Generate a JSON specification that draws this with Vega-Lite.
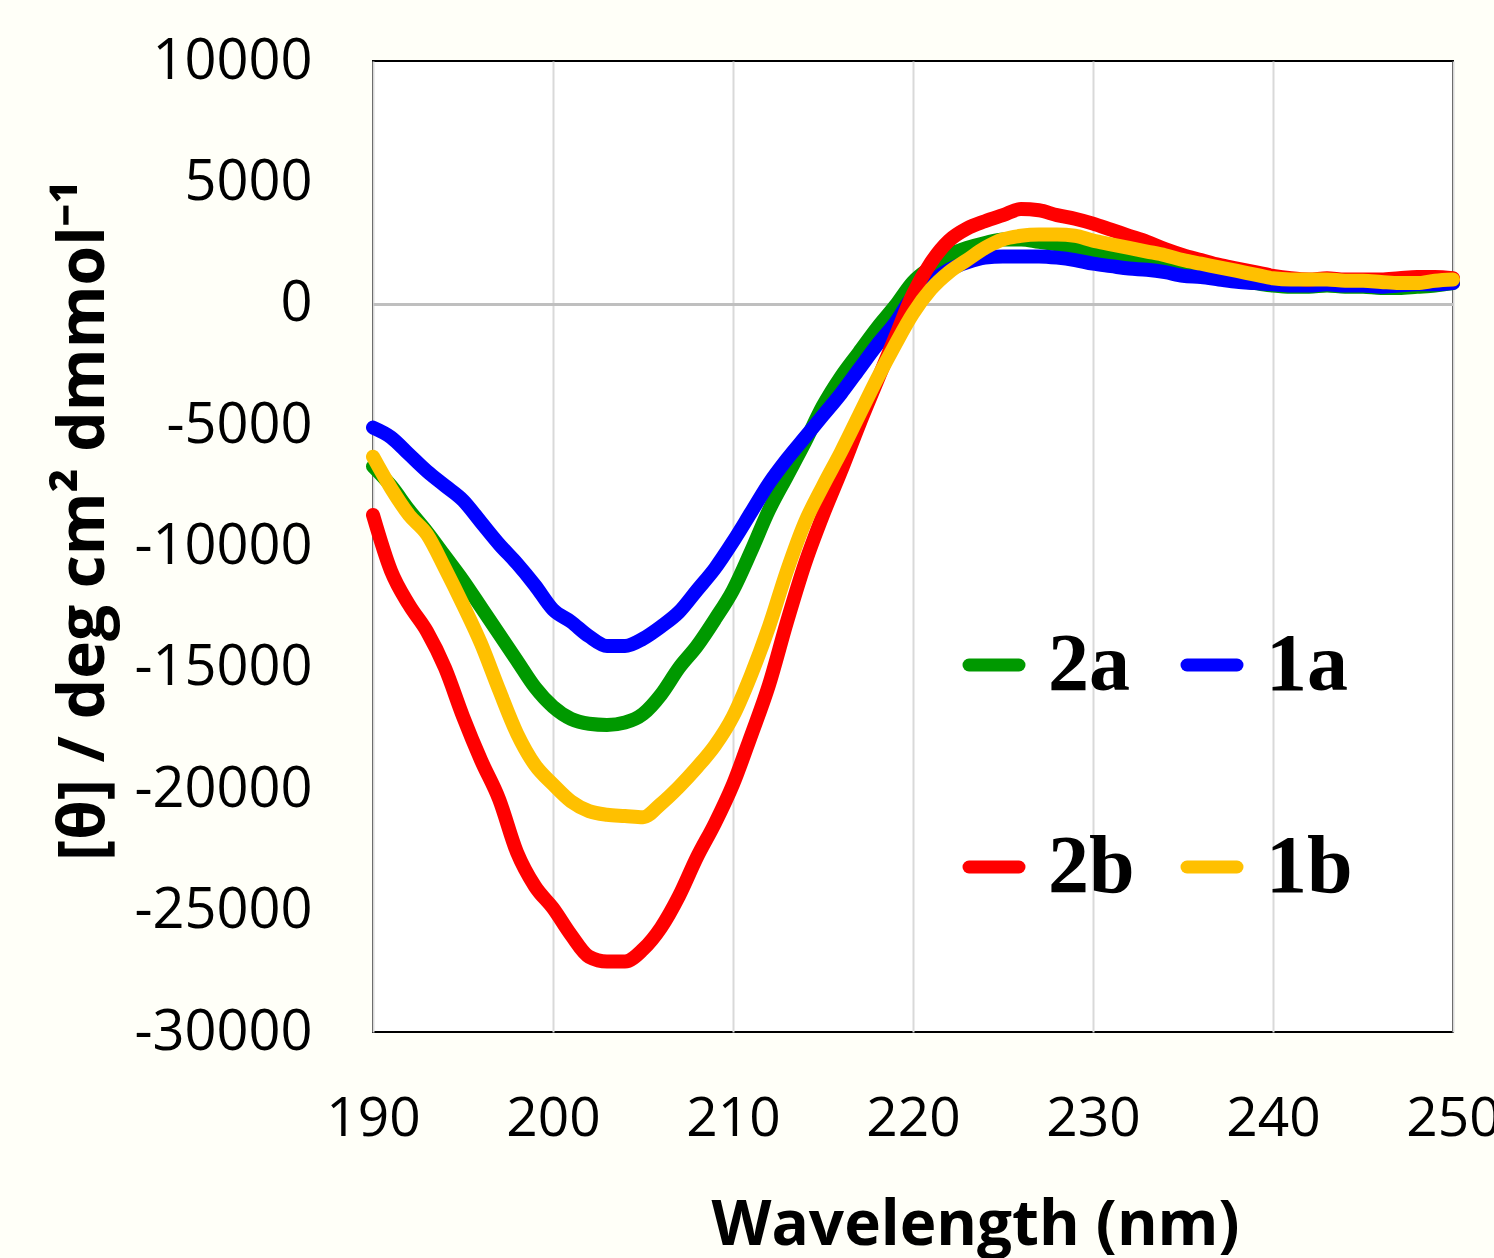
{
  "$schema": "https://vega.github.io/schema/vega-lite/v6.json",
  "width": 1080,
  "height": 971,
  "autosize": {"type": "none"},
  "padding": {"left": 373, "top": 61, "right": 41, "bottom": 226},
  "background": "#fffff8",
  "config": {
    "view": {"stroke": "#000000", "strokeWidth": 2, "fill": "#ffffff"},
    "font": "Open Sans"
  },
  "datasets": {
    "cd": [
      {"s":"2a","x":190,"v":-6700},{"s":"2a","x":191,"v":-7500},{"s":"2a","x":192,"v":-8500},{"s":"2a","x":193,"v":-9400},{"s":"2a","x":194,"v":-10400},{"s":"2a","x":195,"v":-11400},{"s":"2a","x":196,"v":-12500},{"s":"2a","x":197,"v":-13600},{"s":"2a","x":198,"v":-14700},{"s":"2a","x":199,"v":-15800},{"s":"2a","x":200,"v":-16600},{"s":"2a","x":201,"v":-17100},{"s":"2a","x":202,"v":-17300},{"s":"2a","x":203,"v":-17350},{"s":"2a","x":204,"v":-17250},{"s":"2a","x":205,"v":-16900},{"s":"2a","x":206,"v":-16100},{"s":"2a","x":207,"v":-15000},{"s":"2a","x":208,"v":-14100},{"s":"2a","x":209,"v":-13000},{"s":"2a","x":210,"v":-11800},{"s":"2a","x":211,"v":-10200},{"s":"2a","x":212,"v":-8500},{"s":"2a","x":213,"v":-7100},{"s":"2a","x":214,"v":-5700},{"s":"2a","x":215,"v":-4200},{"s":"2a","x":216,"v":-3000},{"s":"2a","x":217,"v":-2000},{"s":"2a","x":218,"v":-1000},{"s":"2a","x":219,"v":-100},{"s":"2a","x":220,"v":900},{"s":"2a","x":221,"v":1500},{"s":"2a","x":222,"v":2000},{"s":"2a","x":223,"v":2300},{"s":"2a","x":224,"v":2500},{"s":"2a","x":225,"v":2650},{"s":"2a","x":226,"v":2650},{"s":"2a","x":227,"v":2550},{"s":"2a","x":228,"v":2450},{"s":"2a","x":229,"v":2350},{"s":"2a","x":230,"v":2150},{"s":"2a","x":231,"v":2000},{"s":"2a","x":232,"v":1850},{"s":"2a","x":233,"v":1700},{"s":"2a","x":234,"v":1550},{"s":"2a","x":235,"v":1400},{"s":"2a","x":236,"v":1250},{"s":"2a","x":237,"v":1100},{"s":"2a","x":238,"v":950},{"s":"2a","x":239,"v":850},{"s":"2a","x":240,"v":750},{"s":"2a","x":241,"v":700},{"s":"2a","x":242,"v":700},{"s":"2a","x":243,"v":750},{"s":"2a","x":244,"v":700},{"s":"2a","x":245,"v":700},{"s":"2a","x":246,"v":650},{"s":"2a","x":247,"v":650},{"s":"2a","x":248,"v":700},{"s":"2a","x":249,"v":750},{"s":"2a","x":250,"v":850},
      {"s":"1a","x":190,"v":-5100},{"s":"1a","x":191,"v":-5500},{"s":"1a","x":192,"v":-6200},{"s":"1a","x":193,"v":-6900},{"s":"1a","x":194,"v":-7500},{"s":"1a","x":195,"v":-8100},{"s":"1a","x":196,"v":-9000},{"s":"1a","x":197,"v":-9900},{"s":"1a","x":198,"v":-10700},{"s":"1a","x":199,"v":-11600},{"s":"1a","x":200,"v":-12600},{"s":"1a","x":201,"v":-13100},{"s":"1a","x":202,"v":-13700},{"s":"1a","x":203,"v":-14100},{"s":"1a","x":204,"v":-14100},{"s":"1a","x":205,"v":-13800},{"s":"1a","x":206,"v":-13300},{"s":"1a","x":207,"v":-12700},{"s":"1a","x":208,"v":-11800},{"s":"1a","x":209,"v":-10900},{"s":"1a","x":210,"v":-9800},{"s":"1a","x":211,"v":-8600},{"s":"1a","x":212,"v":-7400},{"s":"1a","x":213,"v":-6400},{"s":"1a","x":214,"v":-5500},{"s":"1a","x":215,"v":-4600},{"s":"1a","x":216,"v":-3700},{"s":"1a","x":217,"v":-2700},{"s":"1a","x":218,"v":-1700},{"s":"1a","x":219,"v":-800},{"s":"1a","x":220,"v":300},{"s":"1a","x":221,"v":900},{"s":"1a","x":222,"v":1400},{"s":"1a","x":223,"v":1700},{"s":"1a","x":224,"v":1900},{"s":"1a","x":225,"v":1950},{"s":"1a","x":226,"v":1950},{"s":"1a","x":227,"v":1950},{"s":"1a","x":228,"v":1900},{"s":"1a","x":229,"v":1800},{"s":"1a","x":230,"v":1650},{"s":"1a","x":231,"v":1550},{"s":"1a","x":232,"v":1450},{"s":"1a","x":233,"v":1400},{"s":"1a","x":234,"v":1300},{"s":"1a","x":235,"v":1150},{"s":"1a","x":236,"v":1100},{"s":"1a","x":237,"v":1000},{"s":"1a","x":238,"v":900},{"s":"1a","x":239,"v":850},{"s":"1a","x":240,"v":800},{"s":"1a","x":241,"v":750},{"s":"1a","x":242,"v":750},{"s":"1a","x":243,"v":800},{"s":"1a","x":244,"v":750},{"s":"1a","x":245,"v":750},{"s":"1a","x":246,"v":700},{"s":"1a","x":247,"v":750},{"s":"1a","x":248,"v":800},{"s":"1a","x":249,"v":800},{"s":"1a","x":250,"v":850},
      {"s":"2b","x":190,"v":-8700},{"s":"2b","x":191,"v":-11000},{"s":"2b","x":192,"v":-12400},{"s":"2b","x":193,"v":-13500},{"s":"2b","x":194,"v":-15000},{"s":"2b","x":195,"v":-17000},{"s":"2b","x":196,"v":-18800},{"s":"2b","x":197,"v":-20400},{"s":"2b","x":198,"v":-22600},{"s":"2b","x":199,"v":-24000},{"s":"2b","x":200,"v":-24900},{"s":"2b","x":201,"v":-26000},{"s":"2b","x":202,"v":-26900},{"s":"2b","x":203,"v":-27100},{"s":"2b","x":204,"v":-27100},{"s":"2b","x":205,"v":-26600},{"s":"2b","x":206,"v":-25700},{"s":"2b","x":207,"v":-24400},{"s":"2b","x":208,"v":-22800},{"s":"2b","x":209,"v":-21400},{"s":"2b","x":210,"v":-19800},{"s":"2b","x":211,"v":-17800},{"s":"2b","x":212,"v":-15700},{"s":"2b","x":213,"v":-13100},{"s":"2b","x":214,"v":-10700},{"s":"2b","x":215,"v":-8700},{"s":"2b","x":216,"v":-6900},{"s":"2b","x":217,"v":-5000},{"s":"2b","x":218,"v":-3200},{"s":"2b","x":219,"v":-1400},{"s":"2b","x":220,"v":400},{"s":"2b","x":221,"v":1700},{"s":"2b","x":222,"v":2600},{"s":"2b","x":223,"v":3100},{"s":"2b","x":224,"v":3400},{"s":"2b","x":225,"v":3650},{"s":"2b","x":226,"v":3900},{"s":"2b","x":227,"v":3850},{"s":"2b","x":228,"v":3650},{"s":"2b","x":229,"v":3500},{"s":"2b","x":230,"v":3300},{"s":"2b","x":231,"v":3050},{"s":"2b","x":232,"v":2800},{"s":"2b","x":233,"v":2550},{"s":"2b","x":234,"v":2250},{"s":"2b","x":235,"v":2000},{"s":"2b","x":236,"v":1800},{"s":"2b","x":237,"v":1600},{"s":"2b","x":238,"v":1450},{"s":"2b","x":239,"v":1300},{"s":"2b","x":240,"v":1150},{"s":"2b","x":241,"v":1050},{"s":"2b","x":242,"v":1000},{"s":"2b","x":243,"v":1050},{"s":"2b","x":244,"v":1000},{"s":"2b","x":245,"v":1000},{"s":"2b","x":246,"v":1000},{"s":"2b","x":247,"v":1050},{"s":"2b","x":248,"v":1100},{"s":"2b","x":249,"v":1100},{"s":"2b","x":250,"v":1050},
      {"s":"1b","x":190,"v":-6300},{"s":"1b","x":191,"v":-7600},{"s":"1b","x":192,"v":-8700},{"s":"1b","x":193,"v":-9500},{"s":"1b","x":194,"v":-10900},{"s":"1b","x":195,"v":-12400},{"s":"1b","x":196,"v":-14000},{"s":"1b","x":197,"v":-15900},{"s":"1b","x":198,"v":-17700},{"s":"1b","x":199,"v":-19000},{"s":"1b","x":200,"v":-19800},{"s":"1b","x":201,"v":-20500},{"s":"1b","x":202,"v":-20900},{"s":"1b","x":203,"v":-21050},{"s":"1b","x":204,"v":-21100},{"s":"1b","x":205,"v":-21150},{"s":"1b","x":206,"v":-20600},{"s":"1b","x":207,"v":-19900},{"s":"1b","x":208,"v":-19100},{"s":"1b","x":209,"v":-18200},{"s":"1b","x":210,"v":-17000},{"s":"1b","x":211,"v":-15300},{"s":"1b","x":212,"v":-13300},{"s":"1b","x":213,"v":-11000},{"s":"1b","x":214,"v":-9000},{"s":"1b","x":215,"v":-7500},{"s":"1b","x":216,"v":-6100},{"s":"1b","x":217,"v":-4600},{"s":"1b","x":218,"v":-3100},{"s":"1b","x":219,"v":-1700},{"s":"1b","x":220,"v":-400},{"s":"1b","x":221,"v":600},{"s":"1b","x":222,"v":1300},{"s":"1b","x":223,"v":1800},{"s":"1b","x":224,"v":2300},{"s":"1b","x":225,"v":2650},{"s":"1b","x":226,"v":2800},{"s":"1b","x":227,"v":2850},{"s":"1b","x":228,"v":2850},{"s":"1b","x":229,"v":2800},{"s":"1b","x":230,"v":2600},{"s":"1b","x":231,"v":2450},{"s":"1b","x":232,"v":2300},{"s":"1b","x":233,"v":2150},{"s":"1b","x":234,"v":2000},{"s":"1b","x":235,"v":1800},{"s":"1b","x":236,"v":1650},{"s":"1b","x":237,"v":1500},{"s":"1b","x":238,"v":1350},{"s":"1b","x":239,"v":1200},{"s":"1b","x":240,"v":1050},{"s":"1b","x":241,"v":1000},{"s":"1b","x":242,"v":1000},{"s":"1b","x":243,"v":1000},{"s":"1b","x":244,"v":950},{"s":"1b","x":245,"v":950},{"s":"1b","x":246,"v":900},{"s":"1b","x":247,"v":850},{"s":"1b","x":248,"v":850},{"s":"1b","x":249,"v":950},{"s":"1b","x":250,"v":1000}
    ]
  },
  "data": {"name": "cd"},
  "mark": {"type": "line", "strokeWidth": 14, "strokeCap": "round", "strokeJoin": "round", "interpolate": "monotone"},
  "encoding": {
    "x": {
      "field": "x", "type": "quantitative",
      "scale": {"domain": [190, 250], "nice": false, "zero": false},
      "axis": {
        "values": [190, 200, 210, 220, 230, 240, 250],
        "domain": false, "ticks": false, "tickSize": 0,
        "grid": true, "gridColor": "#d9d9d9", "gridWidth": 2,
        "labelFont": "Open Sans", "labelFontSize": 55, "labelColor": "#000000",
        "labelPadding": 60, "labelFlush": false, "labelOverlap": false, "labelBound": false,
        "title": "Wavelength (nm)", "titleFont": "Open Sans", "titleFontSize": 62,
        "titleFontWeight": "bold", "titleColor": "#000000",
        "titleX": 602, "titleY": 212, "titleAlign": "center", "titleBaseline": "alphabetic"
      }
    },
    "y": {
      "field": "v", "type": "quantitative",
      "scale": {"domain": [-30000, 10000], "nice": false, "zero": false},
      "axis": {
        "values": [-30000, -25000, -20000, -15000, -10000, -5000, 0, 5000, 10000],
        "domain": false, "ticks": false, "tickSize": 0,
        "grid": true,
        "gridColor": {"condition": {"test": "datum.value === 0", "value": "#bfbfbf"}, "value": "rgba(0,0,0,0)"},
        "gridWidth": 3,
        "labelExpr": "'' + datum.value",
        "labelFont": "Open Sans", "labelFontSize": 56, "labelColor": "#000000",
        "labelPadding": 61, "labelOverlap": false, "labelBound": false, "labelFlush": false,
        "title": "[θ] / deg cm²  dmmol⁻¹", "titleFont": "Open Sans", "titleFontSize": 64,
        "titleFontWeight": "bold", "titleColor": "#000000",
        "titleAngle": -90, "titleX": -270, "titleY": 459, "titleAlign": "center", "titleBaseline": "alphabetic"
      }
    },
    "color": {
      "field": "s", "type": "nominal",
      "scale": {"domain": ["2a", "2b", "1a", "1b"], "range": ["#009900", "#ff0000", "#0000ff", "#ffc000"]},
      "legend": {
        "orient": "none", "legendX": 580, "legendY": 563, "columns": 2, "title": null,
        "symbolType": "stroke", "symbolSize": 2500, "symbolStrokeWidth": 13,
        "labelFont": "Liberation Serif", "labelFontSize": 82, "labelFontWeight": "bold", "labelColor": "#000000",
        "labelOffset": 13, "columnPadding": 26, "rowPadding": 120, "padding": 0, "labelLimit": 0,
        "encode": {"symbols": {"update": {"strokeCap": {"value": "round"}}}}
      }
    }
  }
}
